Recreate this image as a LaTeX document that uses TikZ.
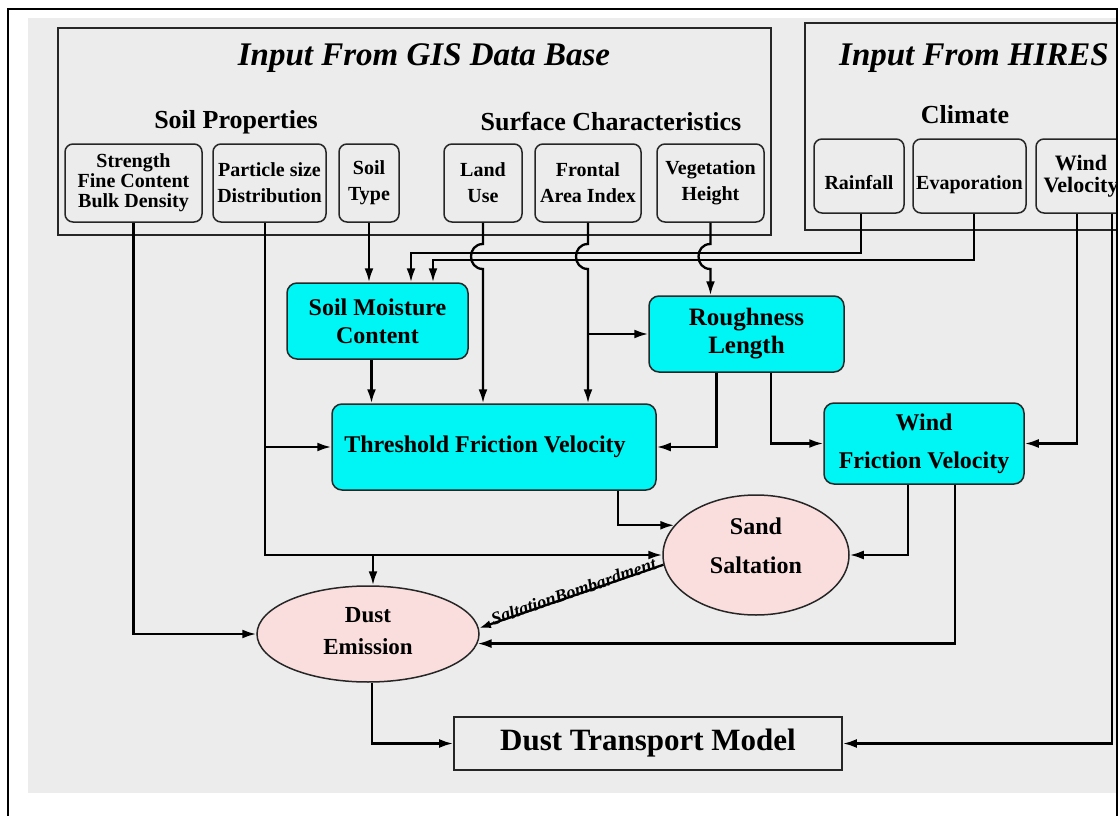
\documentclass[tikz,border=0pt]{standalone}
\usepackage{fontspec}
\setmainfont{Liberation Serif}
\usetikzlibrary{arrows.meta,calc,shapes.geometric}
\newcommand{\myfs}[2]{\fontsize{#1}{#2}\selectfont}
\definecolor{scan}{RGB}{236,236,236}
\definecolor{cy}{RGB}{0,245,245}
\definecolor{pk}{RGB}{250,222,222}
\begin{document}
\begin{tikzpicture}[x=1pt,y=-1pt,
  inbox/.style={draw=black!85, line width=1.5pt, rounded corners=8pt, align=center, inner sep=0pt, font=\bfseries\myfs{20}{26}, minimum height=78pt},
  cybox/.style={draw=black!85, line width=1.5pt, rounded corners=10pt, fill=cy, align=center, inner sep=0pt, font=\bfseries\myfs{24}{28}},
  ell/.style={ellipse, draw=black!85, line width=1.5pt, fill=pk, inner sep=0pt},
  elltxt/.style={align=center, inner sep=0pt, font=\bfseries\myfs{24}{39}},
  grp/.style={draw=black!85, line width=2.2pt, inner sep=0pt},
  conn/.style={line width=2.3pt, draw=black},
  arr/.style={conn, -{Latex[length=14pt,width=9pt]}},
  head/.style={font=\bfseries\myfs{26}{26}, inner sep=0pt},
  ttl/.style={font=\bfseries\itshape\myfs{33}{33}, inner sep=0pt},
]
\useasboundingbox (0,0) rectangle (1120,816);
\fill[white] (0,0) rectangle (1120,816);
\begin{scope}
\clip (0,0) rectangle (1116.5,816);
\fill[scan] (28,18) rectangle (1117,793);

% group boxes
\node[grp, minimum width=713pt, minimum height=207pt] (gis) at (414.5,131.5) {};
\node[grp, minimum width=335pt, minimum height=207pt] (hires) at (972.5,126.5) {};
\node[ttl] (gisT) at (424,58) {Input From GIS Data Base};
\node[ttl, anchor=west] (hirT) at (839,58) {Input From HIRES};
\node[head] (soilP) at (236,122) {Soil Properties};
\node[head] (surfC) at (611,122) {Surface Characteristics};
\node[head] (clim) at (965,115) {Climate};

% input boxes
\node[inbox, minimum width=137pt, font=\bfseries\myfs{20}{20}] (str) at (133.5,183) {Strength\\Fine Content\\Bulk Density};
\node[inbox, minimum width=113pt] (psd) at (269.5,183) {Particle size\\Distribution};
\node[inbox, minimum width=60pt] (stype) at (369,183) {Soil\\Type};
\node[inbox, minimum width=78pt] (luse) at (483,183) {Land\\Use};
\node[inbox, minimum width=106pt] (fai) at (588,183) {Frontal\\Area Index};
\node[inbox, minimum width=107pt] (veg) at (710.5,183) {Vegetation\\Height};
\node[inbox, minimum width=90pt, minimum height=74pt, text height=27pt, text depth=0pt] (rain) at (859,176) {Rainfall};
\node[inbox, minimum width=113pt, minimum height=74pt, text height=27pt, text depth=0pt] (evap) at (969.5,176) {Evaporation};
\node[inbox, minimum width=90pt, minimum height=74pt, font=\bfseries\myfs{22}{22}] (wind) at (1081,176) {Wind\\Velocity};

% process boxes
\node[cybox, minimum width=181pt, minimum height=76pt] (sm) at (377.5,321) {Soil Moisture\\Content};
\node[cybox, minimum width=195pt, minimum height=76pt, font=\bfseries\myfs{25}{28}] (rl) at (746.5,334) {Roughness\\Length};
\node[cybox, minimum width=324pt, minimum height=86pt] (thr) at (494,447) {\hspace*{-18pt}Threshold Friction Velocity};
\node[cybox, minimum width=200pt, minimum height=81pt, font=\bfseries\myfs{24}{38}] (wf) at (924,443.5) {Wind\\Friction Velocity};
\node[ell, minimum width=186pt, minimum height=120pt] (ss) at (756,555) {};
\node[elltxt] (ssT) at (756,546) {Sand\\Saltation};
\node[ell, minimum width=222pt, minimum height=96pt] (de) at (368,634) {};
\node[elltxt, font=\bfseries\myfs{23}{32}] (deT) at (368,631) {Dust\\Emission};
\node[draw=black!85, line width=1.8pt, inner sep=0pt, minimum width=388pt, minimum height=53pt, font=\bfseries\myfs{31}{31}] (dtm) at (648,743.5) {Dust Transport Model};

% connectors from climate
\coordinate (c1) at (411,253);
\coordinate (c2) at (433,260);
\draw[arr] ($(rain.south)+(2,0)$) |- (c1) -- (c1 |- sm.north);
\draw[arr] ($(evap.south)+(4.5,0)$) |- (c2) -- (c2 |- sm.north);
\draw[arr] ($(wind.south)+(-4,0)$) |- (wf.east);
\draw[arr] ($(wind.south)+(31,0)$) |- (dtm.east);

% connectors from GIS
\draw[arr] (str.south) |- (de.west);
\draw[arr] ($(psd.south)+(-4.5,0)$) |- (thr.west);
\draw[arr] ($(psd.south)+(-4.5,0)$) |- (ss.west);
\draw[arr] ($(de.north |- ss.west)+(5,0)$) -- ($(de.north)+(5,0)$);
\draw[arr] (stype.south) -- (stype.south |- sm.north);
\draw[arr] (luse.south) -- (483,244) .. controls (467,244) and (467,269) .. (483,269) -- (luse.south |- thr.north);
\draw[arr] (fai.south) -- (588,244) .. controls (572,244) and (572,269) .. (588,269) -- (fai.south |- thr.north);
\draw[arr] (fai.south |- rl.west) -- (rl.west);
\draw[arr] (veg.south) -- (710.5,244) .. controls (694.5,244) and (694.5,269) .. (710.5,269) -- (veg.south |- rl.north);

% internal connectors
\draw[arr] ($(sm.south)+(-6,0)$) -- ($(sm.south |- thr.north)+(-6,0)$);
\draw[arr] ($(rl.south)+(-30,0)$) |- (thr.east);
\draw[arr] ($(rl.south)+(24.5,0)$) |- (wf.west);
\draw[arr] ($(thr.south)+(124,0)$) |- (ss.160);
\draw[arr] ($(wf.south)+(-16,0)$) |- (ss.east);
\draw[arr] ($(wf.south)+(31,0)$) |- (de.-5);
\draw[conn, {Latex[length=12pt,width=8pt]}-] (de.3) -- (ss.186)
  node[pos=0.52, sloped, anchor=base, inner sep=0pt, yshift=-2pt, font=\bfseries\itshape\myfs{18}{18}] (sbl) {SaltationBombardment};
\draw[arr] ($(de.south)+(4,0)$) |- (dtm.west);
\end{scope}

% frame
\draw[line width=2.5pt] (8,816) -- (8,9) -- (1117,9) -- (1117,816);
\end{tikzpicture}
\end{document}
